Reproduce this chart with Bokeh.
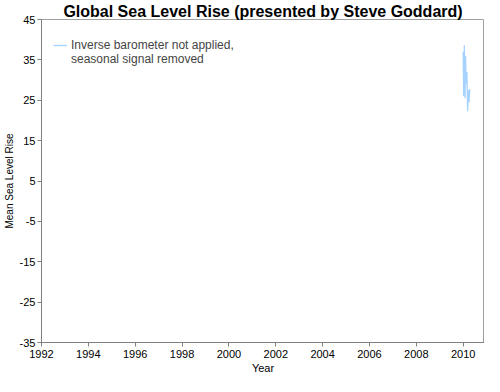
from bokeh.plotting import figure
from bokeh.models import FixedTicker, Range1d, Legend, LegendItem, PrintfTickFormatter
from bokeh.embed import file_html
from bokeh.resources import INLINE

years = [2010.00, 2010.02, 2010.05, 2010.08, 2010.10, 2010.13, 2010.16, 2010.19, 2010.22, 2010.25, 2010.28]
msl = [37.0, 26.0, 38.6, 25.5, 36.0, 29.0, 32.0, 22.3, 27.5, 24.5, 27.8]
x_ticks = [1992, 1994, 1996, 1998, 2000, 2002, 2004, 2006, 2008, 2010]
y_ticks = [-35, -25, -15, -5, 5, 15, 25, 35, 45]
legend_lines = ["Inverse barometer not applied,", "seasonal signal removed"]

FONT = "Liberation Sans"

p = figure(width=484, height=376, output_backend="svg", toolbar_location=None,
           x_range=Range1d(1992, 2010.91), y_range=Range1d(-35, 45),
           min_border_left=0, min_border_right=0, min_border_top=0, min_border_bottom=0)

p.title.text = "Global Sea Level Rise (presented by Steve Goddard)"
p.title.align = "center"
p.title.text_font = FONT
p.title.text_font_size = "16px"
p.title.text_font_style = "bold"
p.title.text_color = "black"
p.title.standoff = 0

r = p.line(years, msl, line_color="#a6d2ff", line_width=1.3)
r_dummy = p.line(x=[], y=[], line_alpha=0)

p.xgrid.visible = False
p.ygrid.visible = False
p.outline_line_color = "#a0a0a0"
p.background_fill_color = "white"
p.border_fill_color = "white"

for ax in (p.xaxis, p.yaxis):
    ax.axis_line_color = "#808080"
    ax.major_tick_line_color = "#808080"
    ax.minor_tick_line_color = None
    ax.major_tick_in = 0
    ax.major_tick_out = 4
    ax.major_label_text_font = FONT
    ax.major_label_text_font_size = "11px"
    ax.major_label_text_color = "black"
    ax.axis_label_text_font = FONT
    ax.axis_label_text_font_style = "normal"
    ax.axis_label_text_color = "black"

p.xaxis.ticker = FixedTicker(ticks=x_ticks)
p.yaxis.ticker = FixedTicker(ticks=y_ticks)
p.yaxis.formatter = PrintfTickFormatter(format="%d")
p.xaxis.formatter = PrintfTickFormatter(format="%d")
p.xaxis.axis_label = "Year"
p.xaxis.axis_label_text_font_size = "11px"
p.xaxis.axis_label_standoff = 1
p.yaxis.axis_label = "Mean Sea Level Rise"
p.yaxis.axis_label_text_font_size = "10px"
p.yaxis.axis_label_standoff = 2
p.xaxis.major_label_standoff = 3
p.yaxis.major_label_standoff = 2

legend = Legend(items=[LegendItem(label=legend_lines[0], renderers=[r]),
                       LegendItem(label=legend_lines[1], renderers=[r_dummy])],
                location=(12, 276), border_line_color=None, background_fill_alpha=0,
                inactive_fill_alpha=0,
                label_text_font=FONT, label_text_font_size="12px",
                glyph_width=14, glyph_height=14, label_height=14,
                label_standoff=4, margin=0, padding=4, spacing=0)
p.add_layout(legend)

open("out.html", "w").write(file_html(p, INLINE))
